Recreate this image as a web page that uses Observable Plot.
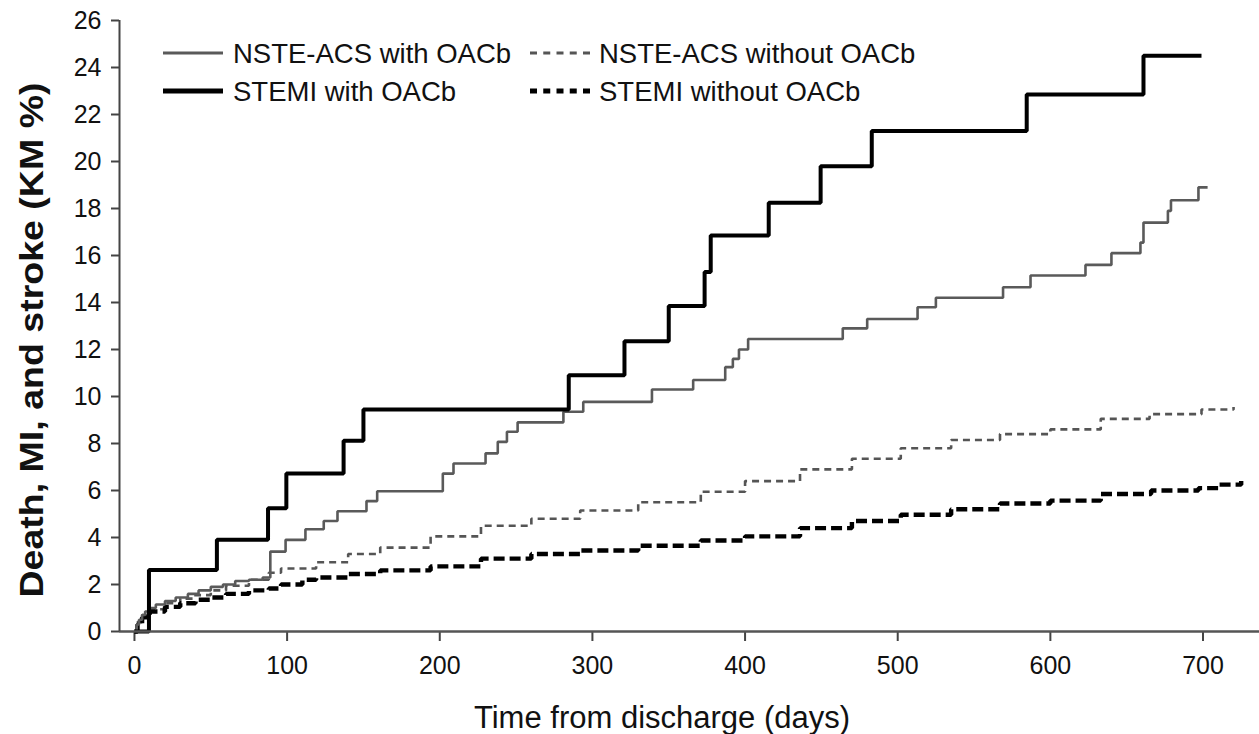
<!DOCTYPE html>
<html><head><meta charset="utf-8">
<script src="https://cdn.jsdelivr.net/npm/d3@7"></script>
<script src="https://cdn.jsdelivr.net/npm/@observablehq/plot@0.6"></script>
<style>
body{margin:0;background:#fff}
#chart svg{display:block}
#chart g[aria-label="x-axis tick"], #chart g[aria-label="y-axis tick"]{stroke-width:2px;stroke:#444}
</style>
</head><body><div id="chart"></div>
<script>
// Series names (legend order)
const seriesNames = ["NSTE-ACS with OACb", "NSTE-ACS without OACb", "STEMI with OACb", "STEMI without OACb"];

// STEMI with OACb
const stemiWithDays = [0, 9.5, 54, 87.5, 99.5, 137, 150, 284.5, 321, 350, 373.5, 377.5, 415.5, 449.5, 483, 584.5, 661, 699];
const stemiWithKM   = [0, 2.62, 3.9, 5.25, 6.72, 8.12, 9.45, 10.9, 12.35, 13.85, 15.3, 16.85, 18.25, 19.8, 21.3, 22.85, 24.5, 24.5];

// NSTE-ACS with OACb
const nsteWithDays = [0, 1.5, 3, 5, 7, 10, 14, 20, 27, 35, 42, 50, 58, 66, 75, 84, 89, 99, 112, 124, 133, 152, 159, 202, 209, 230, 238, 244, 251, 281, 294, 339, 366, 387, 392, 396, 402, 464, 480, 513, 525, 569, 587, 623, 640, 659, 661, 677, 679, 697, 703];
const nsteWithKM   = [0, 0.3, 0.5, 0.7, 0.85, 1.0, 1.15, 1.3, 1.45, 1.6, 1.75, 1.9, 2.0, 2.15, 2.2, 2.3, 3.4, 3.9, 4.35, 4.7, 5.12, 5.55, 5.97, 6.72, 7.15, 7.58, 8.07, 8.5, 8.9, 9.35, 9.77, 10.3, 10.7, 11.25, 11.6, 12.0, 12.45, 12.9, 13.3, 13.8, 14.2, 14.65, 15.15, 15.6, 16.1, 16.55, 17.4, 17.9, 18.35, 18.9, 18.9];

// NSTE-ACS without OACb
const nsteWithoutDays = [0, 2, 5, 10, 20, 30, 40, 50, 60, 75, 88, 96, 119, 140, 161, 194, 227, 260, 292, 330, 371, 400, 436, 470, 502, 535, 567, 600, 633, 665, 699, 720];
const nsteWithoutKM   = [0, 0.4, 0.7, 0.95, 1.2, 1.4, 1.55, 1.75, 1.95, 2.2, 2.5, 2.68, 2.95, 3.3, 3.57, 4.05, 4.5, 4.8, 5.15, 5.5, 5.95, 6.4, 6.9, 7.35, 7.8, 8.15, 8.4, 8.6, 9.05, 9.25, 9.45, 9.55];

// STEMI without OACb
const stemiWithoutDays = [0, 2, 5, 10, 20, 30, 40, 50, 60, 75, 88, 96, 110, 119, 140, 161, 194, 227, 260, 292, 330, 371, 400, 436, 470, 502, 535, 567, 600, 633, 666, 697, 710, 725];
const stemiWithoutKM   = [0, 0.3, 0.6, 0.85, 1.05, 1.2, 1.35, 1.45, 1.6, 1.75, 1.83, 2.0, 2.2, 2.3, 2.45, 2.6, 2.77, 3.1, 3.3, 3.45, 3.65, 3.87, 4.05, 4.4, 4.7, 4.97, 5.2, 5.45, 5.57, 5.85, 6.0, 6.1, 6.25, 6.4];

const xTicks = [0, 100, 200, 300, 400, 500, 600, 700];
const yTicks = [0, 2, 4, 6, 8, 10, 12, 14, 16, 18, 20, 22, 24, 26];
const xTitle = "Time from discharge (days)";
const yTitle = "Death, MI, and stroke (KM %)";

const styles = {
  "NSTE-ACS with OACb":    {stroke: "#5a5a5a", strokeWidth: 2.6, dash: null},
  "NSTE-ACS without OACb": {stroke: "#555555", strokeWidth: 2.6, dash: "7,5"},
  "STEMI with OACb":       {stroke: "#000000", strokeWidth: 4, dash: null},
  "STEMI without OACb":    {stroke: "#000000", strokeWidth: 4.4, dash: "11,5"}
};

const toRows = (days, km) => days.map((d, i) => ({day: d, km: km[i]}));
const data = {
  "NSTE-ACS with OACb": toRows(nsteWithDays, nsteWithKM),
  "NSTE-ACS without OACb": toRows(nsteWithoutDays, nsteWithoutKM),
  "STEMI with OACb": toRows(stemiWithDays, stemiWithKM),
  "STEMI without OACb": toRows(stemiWithoutDays, stemiWithoutKM)
};

const drawOrder = ["NSTE-ACS without OACb", "STEMI without OACb", "NSTE-ACS with OACb", "STEMI with OACb"];
const xDomain = [-9.8, 737];

const lineMarks = drawOrder.map(name => Plot.line(data[name], {
  x: "day", y: "km", curve: "step-after",
  stroke: styles[name].stroke, strokeWidth: styles[name].strokeWidth,
  strokeDasharray: styles[name].dash || undefined,
  strokeLinejoin: "miter", strokeLinecap: "butt"
}));

const chart = Plot.plot({
  width: 1259, height: 734,
  marginLeft: 119, marginRight: 0, marginTop: 20, marginBottom: 103,
  style: {fontFamily: '"Liberation Sans", Arial, Helvetica, sans-serif', fontSize: "25px", color: "#111", background: "#fff", overflow: "visible"},
  x: {domain: xDomain, ticks: xTicks, tickSize: 10, tickPadding: 15, tickFormat: d => String(d), label: null},
  y: {domain: [0, 26], ticks: yTicks, tickSize: 8, tickPadding: 10, tickFormat: d => String(d), label: null},
  marks: [
    ...lineMarks,
    Plot.ruleY([0], {stroke: "#555", strokeWidth: 2.6}),
    Plot.ruleX([xDomain[0]], {y1: 0, y2: 26, stroke: "#444", strokeWidth: 2})
  ]
});
document.getElementById("chart").append(chart);

const svg = d3.select(chart);
const font = '"Liberation Sans", Arial, Helvetica, sans-serif';

// Axis titles
svg.append("text").text(xTitle)
  .attr("x", 662).attr("y", 717).attr("dy", "0.36em")
  .attr("text-anchor", "middle").attr("font-family", font).attr("font-size", 31).attr("fill", "#111");
svg.append("text").text(yTitle)
  .attr("transform", "translate(31,340) rotate(-90)").attr("dy", "0.36em")
  .attr("text-anchor", "middle").attr("font-family", font).attr("font-size", 34).attr("font-weight", "bold")
  .attr("textLength", 515).attr("lengthAdjust", "spacingAndGlyphs").attr("fill", "#111");

// Legend (2 x 2 inside plot)
const legendPos = {
  "NSTE-ACS with OACb":    {x: 163, y: 53},
  "NSTE-ACS without OACb": {x: 530, y: 53},
  "STEMI with OACb":       {x: 163, y: 91},
  "STEMI without OACb":    {x: 530, y: 91}
};
const lg = svg.append("g").attr("font-family", font).attr("font-size", 27.5).attr("fill", "#111").attr("text-anchor", "start");
seriesNames.forEach(name => {
  const p = legendPos[name], s = styles[name];
  lg.append("line").attr("x1", p.x).attr("x2", p.x + 60).attr("y1", p.y).attr("y2", p.y)
    .attr("stroke", s.stroke).attr("stroke-width", name.startsWith("STEMI") ? 5 : 3)
    .attr("stroke-dasharray", s.dash ? "7,6.25" : null);
  lg.append("text").text(name).attr("x", p.x + (p.x < 300 ? 70 : 69)).attr("y", p.y)
    .attr("dy", "0.36em").attr("text-anchor", "start");
});
</script>
</body></html>
